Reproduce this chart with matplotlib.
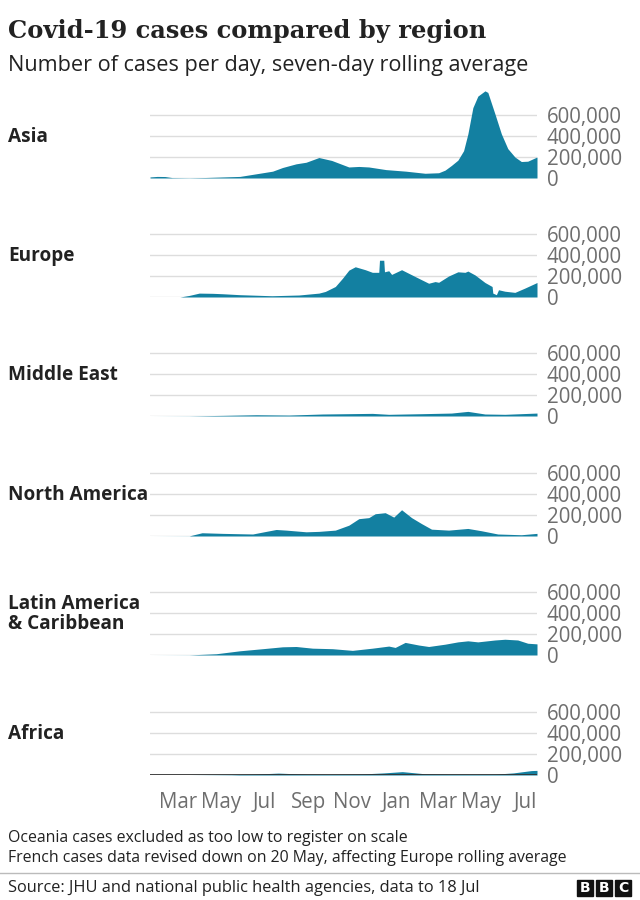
import matplotlib
matplotlib.use('Agg')
import matplotlib.pyplot as plt
import pandas as pd
from matplotlib.patches import Rectangle

W, H = 640, 900

# cases per day, seven-day rolling average (thousands)
asia_dates = ['2020-01-22', '2020-02-01', '2020-02-12', '2020-02-22', '2020-03-17', '2020-04-10',
	'2020-05-27', '2020-06-19', '2020-07-12', '2020-07-26', '2020-08-14', '2020-08-28',
	'2020-09-15', '2020-10-03', '2020-10-27', '2020-11-10', '2020-11-24', '2020-12-18',
	'2021-01-15', '2021-02-11', '2021-03-02', '2021-03-11', '2021-03-20', '2021-03-29',
	'2021-04-06', '2021-04-12', '2021-04-19', '2021-04-26', '2021-05-06', '2021-05-10',
	'2021-05-20', '2021-05-29', '2021-06-07', '2021-06-17', '2021-06-26', '2021-07-05',
	'2021-07-18']
asia_cases = [10, 15, 14, 4, 2, 5,
	15, 40, 65, 100, 135, 150,
	195, 167, 105, 110, 105, 80,
	65, 45, 50, 75, 120, 170,
	260, 420, 670, 780, 830, 815,
	610, 420, 280, 200, 157, 160,
	200]

europe_dates = ['2020-01-22', '2020-03-04', '2020-03-17', '2020-03-31', '2020-04-19', '2020-05-03',
	'2020-05-27', '2020-07-11', '2020-08-18', '2020-09-15', '2020-09-24', '2020-10-08',
	'2020-10-18', '2020-10-27', '2020-11-05', '2020-11-19', '2020-11-29', '2020-12-08',
	'2020-12-09', '2020-12-15', '2020-12-16', '2020-12-22', '2020-12-26', '2021-01-09',
	'2021-01-28', '2021-02-16', '2021-02-25', '2021-03-02', '2021-03-16', '2021-03-29',
	'2021-04-08', '2021-04-12', '2021-04-22', '2021-05-06', '2021-05-16', '2021-05-17',
	'2021-05-22', '2021-05-25', '2021-06-03', '2021-06-17', '2021-07-01', '2021-07-18']
europe_cases = [0, 0, 15, 37, 35, 31,
	22, 12, 19, 37, 53, 100,
	178, 256, 288, 260, 235, 235,
	350, 350, 240, 250, 215, 260,
	195, 131, 147, 140, 200, 240,
	235, 247, 210, 138, 100, 37,
	22, 69, 55, 44, 85, 138]

mideast_dates = ['2020-01-22', '2020-03-17', '2020-05-03', '2020-06-19', '2020-08-04', '2020-09-20',
	'2020-11-29', '2020-12-22', '2021-02-06', '2021-03-20', '2021-04-12', '2021-05-06',
	'2021-06-03', '2021-07-18']
mideast_cases = [0, 1, 6, 12, 9, 19,
	25, 16, 22, 28, 44, 19,
	16, 28]

namerica_dates = ['2020-01-22', '2020-03-17', '2020-04-04', '2020-05-03', '2020-06-14', '2020-07-03',
	'2020-07-17', '2020-07-31', '2020-08-28', '2020-09-15', '2020-10-08', '2020-10-27',
	'2020-11-10', '2020-11-24', '2020-12-03', '2020-12-17', '2020-12-29', '2021-01-09',
	'2021-01-23', '2021-02-06', '2021-02-20', '2021-03-16', '2021-04-12', '2021-05-01',
	'2021-05-24', '2021-06-26', '2021-07-18']
namerica_cases = [0, 1, 31, 25, 19, 44,
	62, 56, 40, 44, 56, 103,
	165, 175, 212, 222, 180, 250,
	175, 118, 65, 56, 72, 50,
	19, 12, 25]

latam_dates = ['2020-01-22', '2020-03-17', '2020-04-24', '2020-05-27', '2020-06-28', '2020-07-26',
	'2020-08-14', '2020-09-06', '2020-10-04', '2020-11-01', '2020-11-29', '2020-12-22',
	'2020-12-31', '2021-01-14', '2021-02-02', '2021-02-16', '2021-03-11', '2021-03-29',
	'2021-04-12', '2021-04-26', '2021-05-20', '2021-06-03', '2021-06-21', '2021-07-05',
	'2021-07-18']
latam_cases = [0, 1, 12, 40, 60, 78,
	81, 65, 60, 44, 65, 85,
	72, 120, 95, 81, 103, 125,
	135, 125, 143, 150, 143, 112,
	106]

africa_dates = ['2020-01-22', '2020-03-17', '2020-05-15', '2020-06-15', '2020-07-20', '2020-08-28',
	'2020-10-01', '2020-11-15', '2020-12-15', '2021-01-10', '2021-02-10', '2021-03-15',
	'2021-04-20', '2021-05-20', '2021-06-15', '2021-07-10', '2021-07-18']
africa_cases = [0, 0, 3, 8, 18, 8,
	6, 10, 20, 32, 12, 8,
	7, 8, 20, 42, 44]

regions = ['Asia', 'Europe', 'Middle East', 'North America', 'Latin America\n& Caribbean', 'Africa']
series = [(asia_dates, asia_cases), (europe_dates, europe_cases), (mideast_dates, mideast_cases),
	(namerica_dates, namerica_cases), (latam_dates, latam_cases), (africa_dates, africa_cases)]

month_ticks = ['2020-03-01', '2020-05-01', '2020-07-01', '2020-09-01', '2020-11-01',
	'2021-01-01', '2021-03-01', '2021-05-01', '2021-07-01']
month_labels = ['Mar', 'May', 'Jul', 'Sep', 'Nov', 'Jan', 'Mar', 'May', 'Jul']
y_ticks = [0, 200000, 400000, 600000]
y_labels = ['0', '200,000', '400,000', '600,000']

teal = '#1380a1'
dark = '#222222'
grey = '#6e6e6e'
sans = ['Open Sans', 'DejaVu Sans']

baselines = [178, 297, 416, 536, 655, 775]
ymax = 850000
px_per_unit = 63 / 600000


def fx(x):
	return x / W


def fy(y):
	return 1 - y / H


fig = plt.figure(figsize=(W / 100, H / 100), dpi=100)
fig.patch.set_facecolor('white')

fig.text(fx(8), fy(31), 'Covid-19 cases compared by region', family='DejaVu Serif',
	weight='bold', fontsize=17.4, color=dark, va='center', ha='left')
fig.text(fx(8), fy(65), 'Number of cases per day, seven-day rolling average', family=sans,
	fontsize=15.6, color=dark, va='center', ha='left')

start = pd.Timestamp('2020-01-22')
end = pd.Timestamp('2021-07-18')

for i, (name, (dates, cases)) in enumerate(zip(regions, series)):
	base = baselines[i]
	h = ymax * px_per_unit
	ax = fig.add_axes([fx(150), fy(base), fx(387), h / H])
	d = pd.to_datetime(dates)
	v = [c * 1000 for c in cases]
	ax.fill_between(d, 0, v, color=teal, linewidth=0, zorder=3, clip_on=False)
	ax.set_xlim(start, end)
	ax.set_ylim(0, ymax)
	ax.set_yticks(y_ticks)
	ax.set_yticklabels(y_labels, family=sans, fontsize=14.8, color=grey)
	ax.yaxis.tick_right()
	ax.tick_params(axis='y', length=0, pad=7)
	ax.grid(axis='y', color='#dddddd', linewidth=1, zorder=0)
	for s in ax.spines.values():
		s.set_visible(False)
	ax.set_facecolor('none')
	if i == len(regions) - 1:
		ax.axhline(0, color='#333333', linewidth=2, zorder=4)
		ax.set_xticks(pd.to_datetime(month_ticks))
		ax.set_xticklabels(month_labels, family=sans, fontsize=14.8, color=grey)
		ax.tick_params(axis='x', length=0, pad=12)
	else:
		ax.set_xticks([])
	fig.text(fx(8), fy(base - 41), name, family=sans, weight='bold', fontsize=13.7,
		color=dark, va='center', ha='left', linespacing=1.05)

fig.text(fx(8), fy(838), 'Oceania cases excluded as too low to register on scale', family=sans,
	fontsize=11.4, color=dark, va='center', ha='left')
fig.text(fx(8), fy(858), 'French cases data revised down on 20 May, affecting Europe rolling average',
	family=sans, fontsize=11.4, color=dark, va='center', ha='left')
fig.add_artist(plt.Line2D([fx(0), fx(640)], [fy(873), fy(873)], color='#bbbbbb', linewidth=1))
fig.text(fx(8), fy(888), 'Source: JHU and national public health agencies, data to 18 Jul',
	family=sans, fontsize=11.8, color=dark, va='center', ha='left')

# BBC blocks
for k, letter in enumerate('BBC'):
	x0 = 577 + k * 19
	fig.add_artist(Rectangle((fx(x0), fy(896)), fx(16), 16 / H, color='#111111'))
	fig.text(fx(x0 + 8), fy(888), letter, family='DejaVu Sans', weight='bold', fontsize=10,
		color='white', va='center', ha='center')

fig.savefig('out.png', dpi=100, facecolor='white')
